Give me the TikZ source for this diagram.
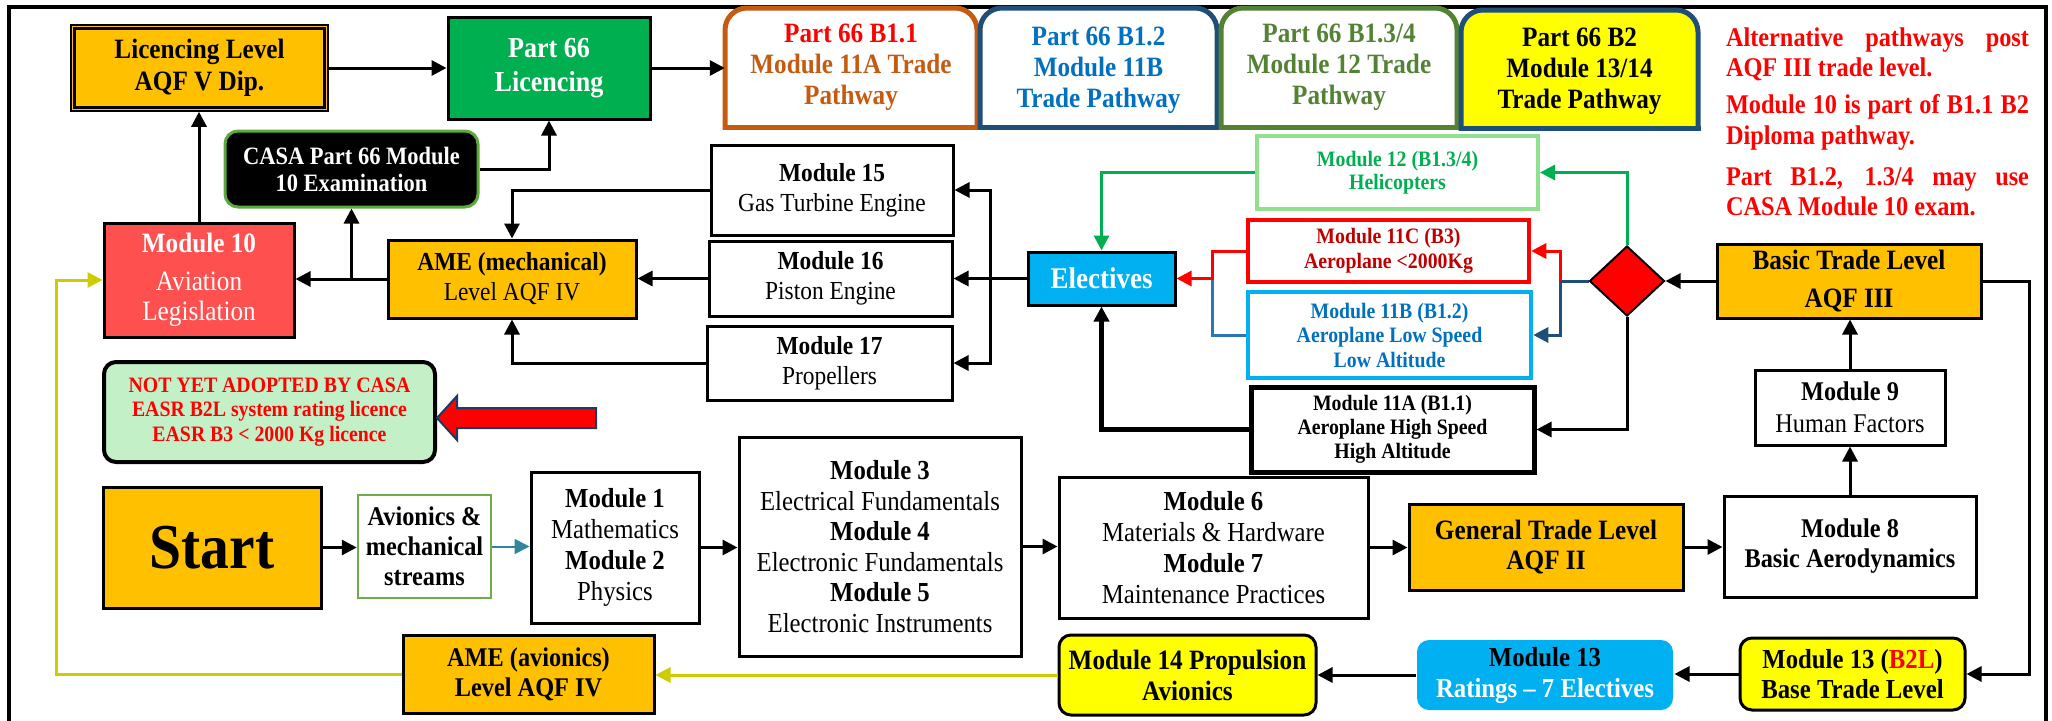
\documentclass[tikz,border=0pt]{standalone}
\usepackage{fontspec}
\setmainfont{Liberation Serif}[FakeStretch=0.9]
\usetikzlibrary{arrows.meta,shapes.geometric,calc}
\definecolor{gold}{HTML}{FFC000}
\definecolor{pgreen}{HTML}{00B050}
\definecolor{salmon}{HTML}{FF5050}
\definecolor{skyb}{HTML}{00B0F0}
\definecolor{yel}{HTML}{FFFF00}
\definecolor{mint}{HTML}{C4F0C8}
\definecolor{rust}{HTML}{C55A11}
\definecolor{navy}{HTML}{1F4E79}
\definecolor{leaf}{HTML}{548235}
\definecolor{midb}{HTML}{0070C0}
\definecolor{paleg}{HTML}{90E090}
\definecolor{dred}{HTML}{C00000}
\definecolor{teal2}{HTML}{31859C}
\definecolor{olive2}{HTML}{CCCC00}
\definecolor{steel}{HTML}{2E75B6}
\definecolor{casag}{HTML}{5DAA3C}
\definecolor{avig}{HTML}{70AD47}
\definecolor{arrowb}{HTML}{1F3864}
\newcommand\fsz[2]{\fontsize{#1pt}{#2pt}\selectfont}
\newcommand\tabshape[6]{%
  \fill[#6, rounded corners=22pt] (#1,#2) rectangle (#3,#4);
  \fill[#6] (#1,{(#2+#4)/2}) rectangle (#3,#4);
  \draw[#5, line width=5pt, rounded corners=22pt, line cap=rect] (#1,#4) -- (#1,#2) -- (#3,#2) -- (#3,#4);
  \draw[#5, line width=5pt, line cap=rect] (#1,#4) -- (#3,#4);
}
\begin{document}
\begin{tikzpicture}[x=1pt,y=-1pt,
  bx/.style={rectangle, draw=black, line width=3pt, inner sep=0pt, align=center},
  lbl/.style={inner sep=0pt, align=center},
  wh/.style 2 args={minimum width=#1pt, minimum height=#2pt},
  ar/.style={draw=black, line width=3pt, -{Triangle[length=15pt,width=15pt]}},
  ln/.style={line width=3pt}
]
\useasboundingbox (0,0) rectangle (2052,720);
% frame
\draw[line width=3.5pt] (9,722) -- (9,7) -- (2046,7) -- (2046,722);

% top row
\node[bx, wh={257}{86}, fill=gold, line width=1.5pt, font={\fsz{28}{32}\bfseries}] (lic) at (199.5,68) {Licencing Level\\AQF V Dip.};
\draw[line width=3pt] ($(lic.north west)+(4.5,4.5)$) rectangle ($(lic.south east)+(-4.5,-4.5)$);
\node[bx, wh={202}{102}, fill=pgreen, text=white, font={\fsz{29}{34}\bfseries}] (p66) at (549,68) {Part 66\\Licencing};

\tabshape{725}{8}{977}{127}{rust}{white}
\node[lbl, wh={252}{119}, text=rust, font={\fsz{28}{31}\bfseries}] (b11) at (851,67.5) {{\color{red}Part 66 B1.1}\\Module 11A Trade\\Pathway};
\tabshape{980}{8}{1217}{127}{navy}{white}
\node[lbl, wh={237}{119}, text=midb, font={\fsz{28}{31}\bfseries}] (b12) at (1098.5,70) {Part 66 B1.2\\Module 11B\\Trade Pathway};
\tabshape{1221}{8}{1457}{127}{leaf}{white}
\node[lbl, wh={236}{119}, text=leaf, font={\fsz{28}{31}\bfseries}] (b134) at (1339,67.5) {Part 66 B1.3/4\\Module 12 Trade\\Pathway};
\tabshape{1461}{10}{1698}{128}{navy}{yel}
\node[lbl, wh={237}{118}, font={\fsz{28}{31}\bfseries}] (b2) at (1579.5,71) {Part 66 B2\\Module 13/14\\Trade Pathway};

% notes
\node[inner sep=0pt, text width=303pt, align=justify, text=red, font={\fsz{27}{30}\bfseries}] (note1) at (1877.5,54) {Alternative pathways post\linebreak AQF III trade level.};
\node[inner sep=0pt, text width=303pt, align=justify, text=red, font={\fsz{27}{31}\bfseries}] (note2) at (1877.5,122.5) {Module 10 is part of B1.1 B2\linebreak Diploma pathway.};
\node[inner sep=0pt, text width=303pt, align=justify, text=red, font={\fsz{27}{30}\bfseries}] (note3) at (1877.5,192) {Part B1.2, 1.3/4 may use\linebreak CASA Module 10 exam.};

% left / middle
\node[bx, wh={253}{76}, rounded corners=13pt, fill=black, draw=casag, text=white, font={\fsz{25}{27}\bfseries}] (casa) at (351.5,169) {CASA Part 66 Module\\10 Examination};
\node[bx, wh={190}{114}, fill=salmon, text=white, font={\fsz{28}{30}}] (m10) at (199,280) {\textbf{Module 10}\\[8pt]Aviation\\Legislation};
\node[bx, wh={248}{78}, fill=gold, font={\fsz{26}{30}}] (ameM) at (512,279) {\textbf{AME (mechanical)}\\Level AQF IV};
\node[bx, wh={242}{90}, font={\fsz{26}{30}}] (m15) at (832,190) {\textbf{Module 15}\\Gas Turbine Engine};
\node[bx, wh={243}{75}, font={\fsz{26}{30}}] (m16) at (830.5,278.5) {\textbf{Module 16}\\Piston Engine};
\node[bx, wh={245}{74}, font={\fsz{26}{30}}] (m17) at (829.5,363) {\textbf{Module 17}\\Propellers};
\node[bx, wh={147}{53}, fill=skyb, text=white, font={\fsz{30}{32}\bfseries}] (elec) at (1101.5,278.5) {Electives};
\node[bx, wh={281}{73}, draw=paleg, line width=4pt, text=pgreen, font={\fsz{22}{23}\bfseries}] (m12) at (1397.5,172.5) {Module 12 (B1.3/4)\\Helicopters};
\node[bx, wh={281}{62}, draw=red, line width=4.5pt, text=dred, font={\fsz{22}{25}\bfseries}] (m11c) at (1388.5,251) {Module 11C (B3)\\Aeroplane <2000Kg};
\node[bx, wh={283}{86}, draw=skyb, line width=4.5pt, text=midb, font={\fsz{22}{24.5}\bfseries}] (m11b) at (1389.5,335) {Module 11B (B1.2)\\Aeroplane Low Speed\\Low Altitude};
\node[bx, wh={283}{85}, line width=5pt, font={\fsz{22}{24}\bfseries}] (m11a) at (1392.5,429.5) {Module 11A (B1.1)\\Aeroplane High Speed\\High Altitude};
\node[diamond, draw=black, fill=red, line width=2pt, minimum width=75pt, minimum height=70pt, inner sep=0pt] (dia) at (1627,281) {};
\node[bx, wh={264}{74}, fill=gold, font={\fsz{28}{38}\bfseries}] (btl) at (1849,281) {Basic Trade Level\\AQF III};
\node[bx, wh={190}{75}, font={\fsz{27}{32}}] (m9) at (1850,407.5) {\textbf{Module 9}\\Human Factors};
\node[bx, wh={252}{101}, font={\fsz{27}{30}\bfseries}] (m8) at (1850,546.5) {Module 8\\Basic Aerodynamics};
\node[bx, wh={274}{86}, fill=gold, font={\fsz{28}{30}\bfseries}] (gtl) at (1546,547) {General Trade Level\\AQF II};
\node[bx, wh={309}{141}, font={\fsz{27.5}{31}}] (m67) at (1213.5,547.5) {\textbf{Module 6}\\Materials \& Hardware\\\textbf{Module 7}\\Maintenance Practices};
\node[bx, wh={282}{219}, font={\fsz{27.5}{30.6}}] (m345) at (880,546.5) {\textbf{Module 3}\\Electrical Fundamentals\\\textbf{Module 4}\\Electronic Fundamentals\\\textbf{Module 5}\\Electronic Instruments};
\node[bx, wh={168}{151}, font={\fsz{27.5}{31}}] (mod12) at (615,547.5) {\textbf{Module 1}\\Mathematics\\\textbf{Module 2}\\Physics};
\node[bx, wh={133}{103}, draw=avig, line width=2.5pt, font={\fsz{27}{30}\bfseries}] (avi) at (424.5,546.5) {Avionics \&\\mechanical\\streams};
\node[bx, wh={218}{121}, fill=gold, font={\fsz{64}{64}\bfseries}] (start) at (212,547.5) {Start};
\node[bx, wh={331}{100}, rounded corners=12pt, fill=mint, line width=4pt, text=red, font={\fsz{22}{24.5}\bfseries}] (notyet) at (269.5,412) {NOT YET ADOPTED BY CASA\\EASR B2L system rating licence\\EASR B3 < 2000 Kg licence};
\draw[fill=red, draw=arrowb, line width=2pt, line join=miter] (437,418) -- (457,396) -- (457,408) -- (596,408) -- (596,428) -- (457,428) -- (457,440) -- cycle;

% bottom row
\node[bx, wh={251}{78}, fill=gold, font={\fsz{27}{30}\bfseries}] (ameA) at (528.5,674) {AME (avionics)\\Level AQF IV};
\node[bx, wh={257}{80}, rounded corners=12pt, fill=yel, font={\fsz{28}{31}\bfseries}] (m14) at (1187.5,675) {Module 14 Propulsion\\Avionics};
\node[bx, draw=none, wh={256}{70}, rounded corners=12pt, fill=skyb, font={\fsz{27.5}{31}\bfseries}] (m13r) at (1545,675) {Module 13\\{\color{white}Ratings -- 7 Electives}};
\node[bx, wh={225}{72}, rounded corners=12pt, fill=yel, font={\fsz{27.5}{30}\bfseries}] (m13b) at (1852.5,674) {Module 13 ({\color{red}B2L})\\Base Trade Level};

% connectors
\draw[ar] (lic.east) -- (p66.west);
\draw[ar] (p66.east) -- (p66.east -| b11.west);
\draw[ar] (m10.north) -- (m10.north |- lic.south);
\draw[ar] (casa.east) -| (p66.south);
\draw[ar] (ameM.west) -- (ameM.west -| m10.east);
\draw[ar] (casa.south |- ameM.west) -- (casa.south);
\draw[ar] (m15.west) -| (ameM.north);
\draw[ar] (m16.west) -- (m16.west -| ameM.east);
\draw[ar] (m17.west) -| (ameM.south);
\coordinate (bus) at (990,278.5);
\draw[ln] (elec.west) -- (bus);
\draw[ar] (bus) |- (m15.east);
\draw[ar] (bus) -- (bus -| m16.east);
\draw[ar] (bus) |- (m17.east);
\draw[ar, draw=pgreen] (m12.west) -| (elec.north);
\coordinate (jx) at (1212,278.5);
\draw[ln, draw=steel] (m11b.west) -| (jx);
\draw[ar, draw=red] (m11c.west) -| (jx) -- (elec.east);
\draw[ar, line width=5pt] (m11a.west) -| (elec.south);
\draw[ar] (btl.west) -- (dia.east);
\coordinate (rc) at (2029,674);
\draw[ar] (btl.east) -| (rc) -- (m13b.east);
\draw[ar] (m13b.west) -- (m13b.west -| m13r.east);
\draw[ar] (m13r.west) -- (m13r.west -| m14.east);
\draw[ar, draw=olive2] (m14.west) -- (m14.west -| ameA.east);
\coordinate (yc) at (56,280);
\draw[ar, draw=olive2] (ameA.west) -| (yc) -- (m10.west);
\draw[ar] (m8.north) -- (m8.north |- m9.south);
\draw[ar] (m9.north) -- (m9.north |- btl.south);
\draw[ar] (gtl.east) -- (gtl.east -| m8.west);
\draw[ar] (m67.east) -- (m67.east -| gtl.west);
\draw[ar] (m345.east) -- (m345.east -| m67.west);
\draw[ar] (mod12.east) -- (mod12.east -| m345.west);
\draw[ar, draw=teal2, line width=2pt] (avi.east) -- (avi.east -| mod12.west);
\draw[ar] (start.east) -- (start.east -| avi.west);
\draw[ar, draw=pgreen] (dia.north) |- (m12.east);
\coordinate (dj) at (1560,281);
\draw[ln, draw=navy] (dia.west) -- (dj);
\draw[ar, draw=navy] (dj) |- (m11b.east);
\draw[ar, draw=red] (dj) |- (m11c.east);
\draw[ar] (dia.south) |- (m11a.east);
\end{tikzpicture}
\end{document}
